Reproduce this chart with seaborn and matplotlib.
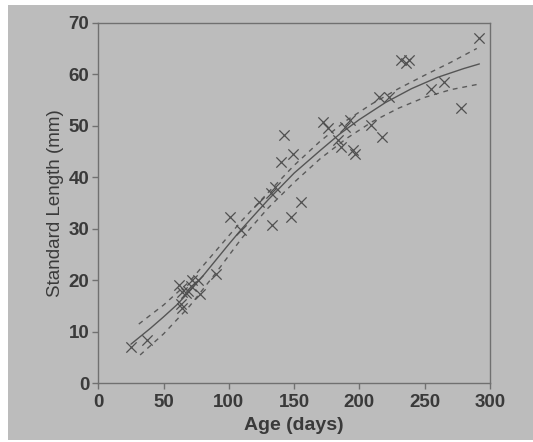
import numpy as np
import pandas as pd
import seaborn as sns
import matplotlib.pyplot as plt
from matplotlib.patches import Rectangle

# observed fish: age (days) vs standard length (mm)
ages = [25, 37, 62, 64, 63, 64, 67, 69, 71, 72, 76, 78, 90, 101, 109,
        123, 132, 135, 133, 140, 142, 148, 149, 155, 172, 176, 184, 186,
        189, 193, 195, 197, 209, 217, 215, 223, 232, 236, 238, 255, 265,
        278, 292]
lengths = [7.1, 8.4, 19.0, 17.8, 15.3, 14.6, 17.5, 18.0, 18.8, 20.0, 20.0,
           17.3, 21.3, 32.2, 29.8, 35.2, 36.9, 38.2, 30.7, 43.0, 48.2, 32.2,
           44.6, 35.2, 50.8, 49.5, 47.2, 45.9, 49.8, 51.1, 45.3, 44.6, 50.1,
           47.9, 55.6, 55.6, 62.7, 62.1, 62.7, 57.2, 58.5, 53.4, 67.0]

# fitted growth curve
fit_age = [25, 40, 50, 60, 70, 80, 90, 100, 110, 130, 150, 170, 185, 200,
           220, 240, 260, 280, 292]
fit_len = [7.6, 10.7, 12.9, 15.2, 17.9, 20.8, 23.9, 27.0, 30.0, 35.6, 40.8,
           45.2, 48.4, 51.2, 54.5, 57.2, 59.4, 61.1, 62.0]

# confidence band
up_age = [31, 50, 70, 90, 110, 130, 150, 170, 190, 210, 230, 250, 270, 290]
up_len = [11.5, 15.2, 19.8, 25.7, 31.6, 37.0, 42.3, 47.0, 51.0, 54.3, 57.2,
          59.8, 62.3, 65.0]
lo_age = [32, 50, 70, 90, 110, 130, 150, 170, 190, 210, 230, 250, 270, 290]
lo_len = [5.5, 9.6, 15.0, 21.4, 28.2, 34.0, 39.0, 43.6, 47.5, 50.8, 53.4,
          55.5, 57.0, 58.0]

x_ticks = [0, 50, 100, 150, 200, 250, 300]
y_ticks = [0, 10, 20, 30, 40, 50, 60, 70]

bg = '#bcbcbc'
ink = '#3a3a3a'

sns.set_theme(style="ticks")
plt.rcParams['font.family'] = ['Liberation Sans', 'DejaVu Sans']

fig = plt.figure(figsize=(5.33, 4.42), dpi=100, facecolor='white')
fig.patches.append(Rectangle((8 / 533, 2 / 442), 1, 1 - 7 / 442,
                             transform=fig.transFigure, facecolor=bg,
                             edgecolor='none', zorder=-10))
ax = fig.add_axes([0.1845, 0.1328, 0.7345, 0.8158])
ax.set_facecolor(bg)

pts = pd.DataFrame({'age': ages, 'sl': lengths})
sns.scatterplot(data=pts, x='age', y='sl', marker='x', s=55, color='#505050',
                linewidth=0.9, ax=ax, zorder=3)

fit = pd.DataFrame({'age': fit_age, 'sl': fit_len})
sns.lineplot(data=fit, x='age', y='sl', color='#555555', linewidth=1.0,
             sort=False, estimator=None, ax=ax)
for a, l in [(up_age, up_len), (lo_age, lo_len)]:
    band = pd.DataFrame({'age': a, 'sl': l})
    sns.lineplot(data=band, x='age', y='sl', color='#5a5a5a', linewidth=1.0,
                 linestyle=(0, (3.5, 3.5)), sort=False, estimator=None, ax=ax)

ax.set_xlim(0, 300)
ax.set_ylim(0, 70)
ax.set_xticks(x_ticks, [str(v) for v in x_ticks], fontsize=13.5, fontweight='bold')
ax.set_yticks(y_ticks, [str(v) for v in y_ticks], fontsize=13.5, fontweight='bold')
for s in ax.spines.values():
    s.set_color('#707070')
    s.set_linewidth(1.0)
ax.tick_params(direction='out', length=4, width=1, color='#707070',
               labelcolor=ink)
ax.tick_params(axis='x', pad=4)
ax.tick_params(axis='y', pad=2.5)
ax.set_xlabel('Age (days)', fontsize=14, fontweight='bold', color=ink, labelpad=4)
ax.set_ylabel('Standard Length (mm)', fontsize=13.5, color=ink, labelpad=3)

plt.savefig('out.png', dpi=100, facecolor=fig.get_facecolor())
